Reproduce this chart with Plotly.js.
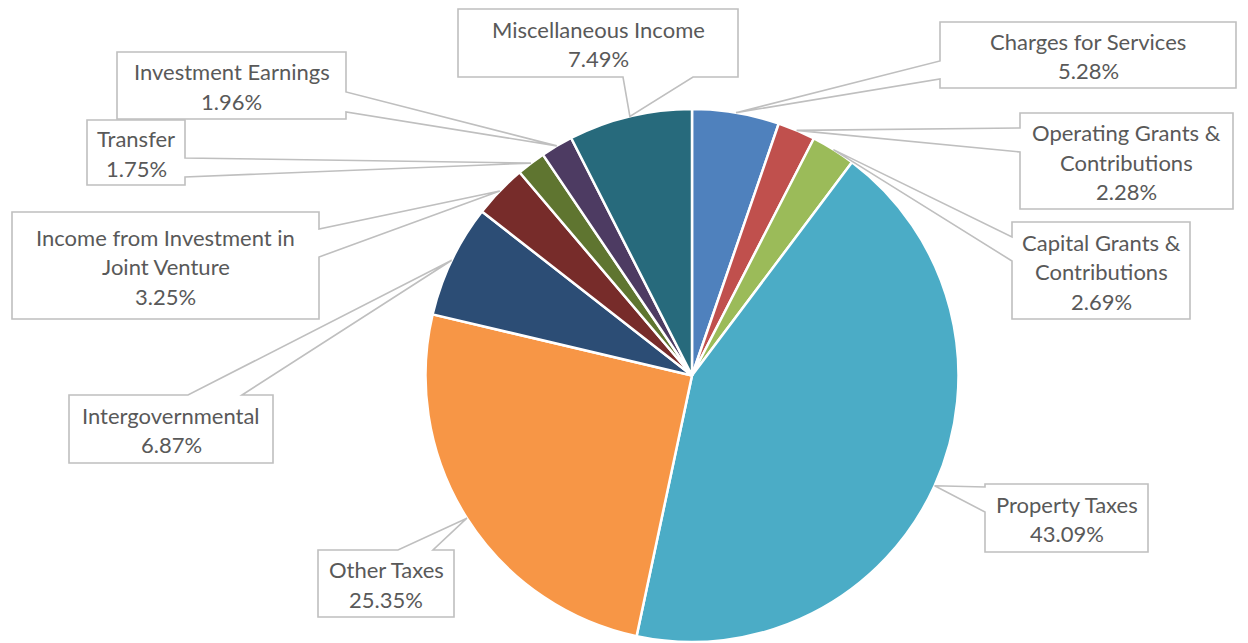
<!DOCTYPE html>
<html><head><meta charset="utf-8">
<script src="https://cdn.plot.ly/plotly-3.0.1.min.js"></script>
<style>html,body{margin:0;padding:0;background:#fff}#chart{width:1248px;height:643px}</style>
</head><body><div id="chart"></div>
<script>
// ---- data ----
const categories = ["Charges for Services","Operating Grants & Contributions","Capital Grants & Contributions","Property Taxes","Other Taxes","Intergovernmental","Income from Investment in Joint Venture","Transfer","Investment Earnings","Miscellaneous Income"];
const percents = [5.28, 2.28, 2.69, 43.09, 25.35, 6.87, 3.25, 1.75, 1.96, 7.49];
const labelLines = [["Charges for Services"],["Operating Grants &","Contributions"],["Capital Grants &","Contributions"],["Property Taxes"],["Other Taxes"],["Intergovernmental"],["Income from Investment in","Joint Venture"],["Transfer"],["Investment Earnings"],["Miscellaneous Income"]];
const colors = ["#4F81BD","#C0504D","#9BBB59","#4BACC6","#F79646","#2C4D75","#772C2A","#5F7530","#4D3B62","#276A7C"];

// ---- layout (pixels) ----
const W = 1248, H = 643, CX = 692, CY = 375.5, R = 266.5;
const boxes = [
  {x0:940, y0:22,  x1:1236, y1:88,  side:"left",   b0:61,  b1:79},
  {x0:1020,y0:113, x1:1233, y1:209, side:"left",   b0:128, b1:152},
  {x0:1012,y0:222, x1:1190, y1:319, side:"left",   b0:237, b1:261},
  {x0:985, y0:484, x1:1148, y1:552, side:"left",   b0:487, b1:512},
  {x0:318, y0:550, x1:454,  y1:617, side:"top",    b0:398, b1:433},
  {x0:69,  y0:395, x1:273,  y1:463, side:"top",    b0:188, b1:242},
  {x0:12,  y0:212, x1:319,  y1:319, side:"right",  b0:229, b1:257},
  {x0:87,  y0:120, x1:185,  y1:185, side:"right",  b0:158, b1:177},
  {x0:117, y0:52,  x1:346,  y1:119, side:"right",  b0:92,  b1:112},
  {x0:458, y0:9,   x1:738,  y1:77,  side:"bottom", b0:623, b1:693}
];
const LINE_H = 29.5;

const px = x => (x / W).toFixed(5);
const py = y => (1 - y / H).toFixed(5);

const total = percents.reduce((a, b) => a + b, 0);
let cum = 0;
const shapes = [], annotations = [];
percents.forEach((v, i) => {
  const mid = (cum + v / 2) / total;
  cum += v;
  const th = mid * 2 * Math.PI;
  const tx = CX + R * Math.sin(th), ty = CY - R * Math.cos(th);
  const b = boxes[i];
  const pts = [[b.x0, b.y0]];
  if (b.side === "top") pts.push([b.b0, b.y0], [tx, ty], [b.b1, b.y0]);
  pts.push([b.x1, b.y0]);
  if (b.side === "right") pts.push([b.x1, b.b0], [tx, ty], [b.x1, b.b1]);
  pts.push([b.x1, b.y1]);
  if (b.side === "bottom") pts.push([b.b1, b.y1], [tx, ty], [b.b0, b.y1]);
  pts.push([b.x0, b.y1]);
  if (b.side === "left") pts.push([b.x0, b.b1], [tx, ty], [b.x0, b.b0]);
  const path = pts.map((p, k) => (k ? "L" : "M") + px(p[0]) + "," + py(p[1])).join(" ") + " Z";
  shapes.push({type: "path", xref: "paper", yref: "paper", path: path,
    fillcolor: "#FFFFFF", line: {color: "#BFBFBF", width: 1.6}, layer: "above"});
  const lines = labelLines[i].concat([v.toFixed(2) + "%"]);
  const cxB = (b.x0 + b.x1) / 2, cyB = (b.y0 + b.y1) / 2 + 1;
  lines.forEach((t, k) => {
    const ly = cyB + (k - (lines.length - 1) / 2) * LINE_H;
    annotations.push({xref: "paper", yref: "paper", x: cxB / W, y: 1 - ly / H,
      xanchor: "center", yanchor: "middle", showarrow: false, text: t,
      font: {family: "Lato, 'Open Sans', sans-serif", size: 22, color: "#595959"}});
  });
});

const trace = {
  type: "pie", values: percents, labels: categories, sort: false,
  direction: "clockwise", rotation: 0, textinfo: "none", hoverinfo: "label+percent",
  marker: {colors: colors, line: {color: "#FFFFFF", width: 2.5}},
  domain: {x: [(CX - R) / W, (CX + R) / W], y: [(H - CY - R) / H, (H - CY + R) / H]},
  showlegend: false
};

Plotly.newPlot("chart", [trace], {
  width: W, height: H, margin: {l: 0, r: 0, t: 0, b: 0},
  paper_bgcolor: "#FFFFFF", plot_bgcolor: "#FFFFFF", showlegend: false,
  shapes: shapes, annotations: annotations
}, {displayModeBar: false, staticPlot: true});
</script></body></html>
